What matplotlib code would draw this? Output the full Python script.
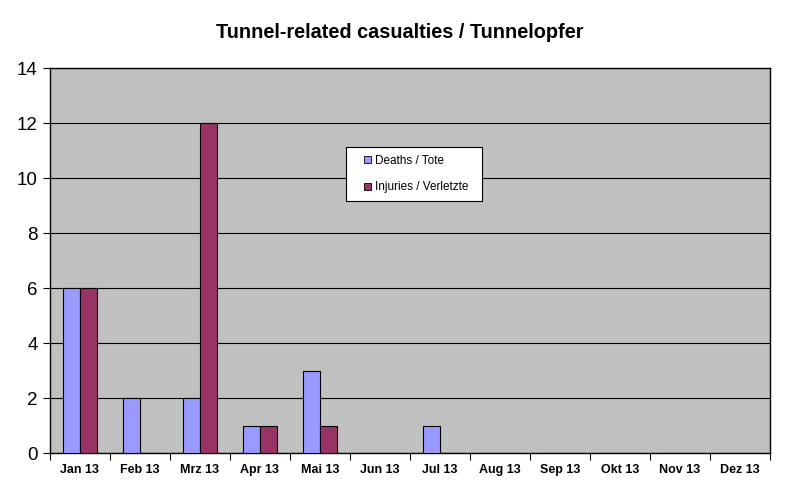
import matplotlib
matplotlib.use("Agg")
import matplotlib.pyplot as plt
import matplotlib.patches as mpatches
from matplotlib.container import BarContainer
from matplotlib.legend_handler import HandlerPatch, update_from_first_child
import numpy as np

months = ["Jan 13", "Feb 13", "Mrz 13", "Apr 13", "Mai 13", "Jun 13",
          "Jul 13", "Aug 13", "Sep 13", "Okt 13", "Nov 13", "Dez 13"]
deaths = [6, 2, 2, 1, 3, 0, 1, 0, 0, 0, 0, 0]
injuries = [6, 0, 12, 1, 1, 0, 0, 0, 0, 0, 0, 0]

plt.rcParams['font.family'] = ['Liberation Sans', 'DejaVu Sans']


def small_square(legend, orig_handle, xdescent, ydescent, width, height, fontsize):
    # little square key placed at the right end of the handle box
    s = 5.2
    return mpatches.Rectangle((-xdescent + width - s, -ydescent + (height - s) / 2), s, s)


fig = plt.figure(figsize=(8, 4.97), dpi=100, facecolor='white')
ax = fig.add_axes([0.0625, 0.0885, 0.9, 0.7746])
ax.set_facecolor('#C0C0C0')

x = np.arange(len(months))
w = 0.285
ax.bar(x - w / 2, deaths, w, color='#9999FF', edgecolor='black', lw=0.8,
       label='Deaths / Tote', zorder=3)
ax.bar(x + w / 2, injuries, w, color='#993366', edgecolor='black', lw=0.8,
       label='Injuries / Verletzte  ', zorder=3)

ax.set_xlim(-0.5, 11.5)
ax.set_ylim(0, 14)
ax.set_yticks(range(0, 15, 2))
ax.tick_params(axis='y', labelsize=13.5, length=5, width=0.8, direction='out', pad=4)
ax.grid(axis='y', color='black', lw=0.8, zorder=1)

# category labels at centres, tick marks at boundaries
ax.set_xticks(x)
ax.set_xticklabels(months, fontsize=9, fontweight='bold')
ax.tick_params(axis='x', which='major', length=0, pad=8)
ax.set_xticks(np.arange(-0.5, 12, 1), minor=True)
ax.tick_params(axis='x', which='minor', length=5, width=0.8, direction='out')

for s in ax.spines.values():
    s.set_color('black')
    s.set_linewidth(1.0)

hm = {BarContainer: HandlerPatch(patch_func=small_square,
                                 update_func=update_from_first_child)}
leg = ax.legend(loc='upper left', bbox_to_anchor=(0.411, 0.795), fontsize=8.5,
                frameon=True, fancybox=False, edgecolor='black', framealpha=1,
                handlelength=1.5, handleheight=0.7, handletextpad=0.3,
                borderpad=0.65, labelspacing=1.25, borderaxespad=0, handler_map=hm)
leg.get_frame().set_facecolor('white')
leg.get_frame().set_linewidth(0.8)
for h in leg.legend_handles:
    h.set_edgecolor('black')
    h.set_linewidth(0.6)

fig.text(0.5, 0.935, 'Tunnel-related casualties / Tunnelopfer', ha='center',
         va='center', fontsize=14.3, fontweight='bold')

fig.savefig('out.png', dpi=100, facecolor='white')
